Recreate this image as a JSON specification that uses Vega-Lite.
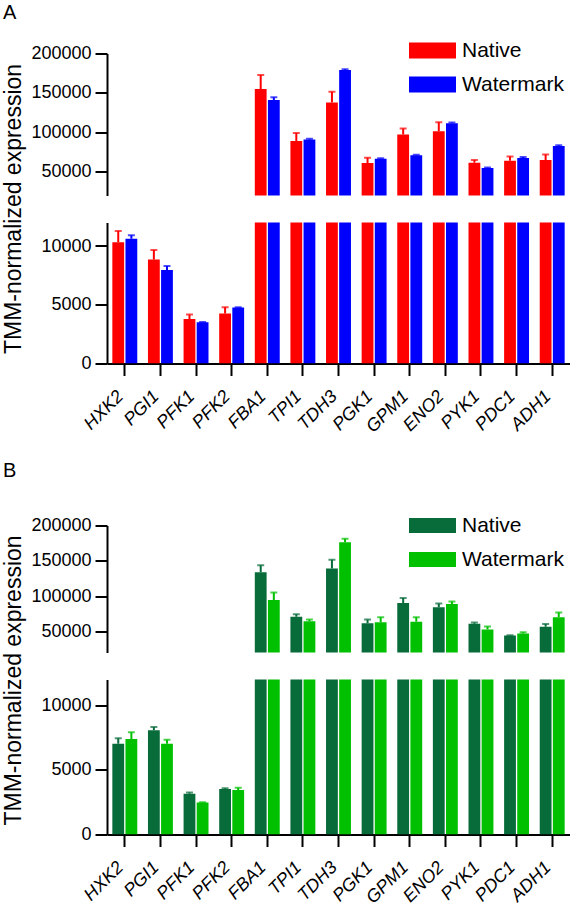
{
  "$schema": "https://vega.github.io/schema/vega-lite/v6.json",
  "padding": {"left": 2, "top": 2.5, "right": 0, "bottom": 0},
  "bounds": "flush",
  "spacing": 472,
  "config": {
    "font": "Liberation Sans",
    "view": {"stroke": null},
    "axis": {"grid": false, "domainColor": "#000000", "domainWidth": 2, "tickColor": "#000000", "tickWidth": 2, "tickSize": 12, "labelColor": "#000000", "labelFontSize": 18, "labelPadding": 4, "titleColor": "#000000", "titleFontWeight": "normal"},
    "title": {"fontWeight": "normal", "color": "#000000"},
    "legend": {"labelColor": "#000000", "symbolOpacity": 1}
  },
  "resolve": {"scale": {"color": "independent"}, "legend": {"color": "independent"}},
  "datasets": {
    "d": [
      {"panel": "A", "gene": "HXK2", "cond": "Native", "value": 10316, "hi": 11282},
      {"panel": "A", "gene": "HXK2", "cond": "Watermark", "value": 10624, "hi": 10912},
      {"panel": "A", "gene": "PGI1", "cond": "Native", "value": 8860, "hi": 9658},
      {"panel": "A", "gene": "PGI1", "cond": "Watermark", "value": 7949, "hi": 8290},
      {"panel": "A", "gene": "PFK1", "cond": "Native", "value": 3789, "hi": 4160},
      {"panel": "A", "gene": "PFK1", "cond": "Watermark", "value": 3504, "hi": 3530},
      {"panel": "A", "gene": "PFK2", "cond": "Native", "value": 4245, "hi": 4786},
      {"panel": "A", "gene": "PFK2", "cond": "Watermark", "value": 4758, "hi": 4790},
      {"panel": "A", "gene": "FBA1", "cond": "Native", "value": 155000, "hi": 172900},
      {"panel": "A", "gene": "FBA1", "cond": "Watermark", "value": 141000, "hi": 144500},
      {"panel": "A", "gene": "TPI1", "cond": "Native", "value": 89200, "hi": 99200},
      {"panel": "A", "gene": "TPI1", "cond": "Watermark", "value": 91000, "hi": 92000},
      {"panel": "A", "gene": "TDH3", "cond": "Native", "value": 138000, "hi": 151500},
      {"panel": "A", "gene": "TDH3", "cond": "Watermark", "value": 179000, "hi": 180000},
      {"panel": "A", "gene": "PGK1", "cond": "Native", "value": 61300, "hi": 67800},
      {"panel": "A", "gene": "PGK1", "cond": "Watermark", "value": 66600, "hi": 67300},
      {"panel": "A", "gene": "GPM1", "cond": "Native", "value": 97300, "hi": 105000},
      {"panel": "A", "gene": "GPM1", "cond": "Watermark", "value": 71000, "hi": 71600},
      {"panel": "A", "gene": "ENO2", "cond": "Native", "value": 101500, "hi": 112800},
      {"panel": "A", "gene": "ENO2", "cond": "Watermark", "value": 111500, "hi": 112500},
      {"panel": "A", "gene": "PYK1", "cond": "Native", "value": 61600, "hi": 65100},
      {"panel": "A", "gene": "PYK1", "cond": "Watermark", "value": 55000, "hi": 55600},
      {"panel": "A", "gene": "PDC1", "cond": "Native", "value": 64000, "hi": 69400},
      {"panel": "A", "gene": "PDC1", "cond": "Watermark", "value": 67500, "hi": 68800},
      {"panel": "A", "gene": "ADH1", "cond": "Native", "value": 65100, "hi": 72100},
      {"panel": "A", "gene": "ADH1", "cond": "Watermark", "value": 82900, "hi": 83600},
      {"panel": "B", "gene": "HXK2", "cond": "Native", "value": 7031, "hi": 7442},
      {"panel": "B", "gene": "HXK2", "cond": "Watermark", "value": 7388, "hi": 7907},
      {"panel": "B", "gene": "PGI1", "cond": "Native", "value": 8062, "hi": 8320},
      {"panel": "B", "gene": "PGI1", "cond": "Watermark", "value": 7031, "hi": 7339},
      {"panel": "B", "gene": "PFK1", "cond": "Native", "value": 3155, "hi": 3256},
      {"panel": "B", "gene": "PFK1", "cond": "Watermark", "value": 2481, "hi": 2490},
      {"panel": "B", "gene": "PFK2", "cond": "Native", "value": 3514, "hi": 3580},
      {"panel": "B", "gene": "PFK2", "cond": "Watermark", "value": 3437, "hi": 3618},
      {"panel": "B", "gene": "FBA1", "cond": "Native", "value": 133800, "hi": 143800},
      {"panel": "B", "gene": "FBA1", "cond": "Watermark", "value": 94500, "hi": 104900},
      {"panel": "B", "gene": "TPI1", "cond": "Native", "value": 70700, "hi": 74200},
      {"panel": "B", "gene": "TPI1", "cond": "Watermark", "value": 64300, "hi": 66900},
      {"panel": "B", "gene": "TDH3", "cond": "Native", "value": 139000, "hi": 151500},
      {"panel": "B", "gene": "TDH3", "cond": "Watermark", "value": 176200, "hi": 181300},
      {"panel": "B", "gene": "PGK1", "cond": "Native", "value": 61300, "hi": 66900},
      {"panel": "B", "gene": "PGK1", "cond": "Watermark", "value": 63000, "hi": 70000},
      {"panel": "B", "gene": "GPM1", "cond": "Native", "value": 90200, "hi": 97100},
      {"panel": "B", "gene": "GPM1", "cond": "Watermark", "value": 63500, "hi": 70000},
      {"panel": "B", "gene": "ENO2", "cond": "Native", "value": 84200, "hi": 89400},
      {"panel": "B", "gene": "ENO2", "cond": "Watermark", "value": 88900, "hi": 92400},
      {"panel": "B", "gene": "PYK1", "cond": "Native", "value": 60900, "hi": 62600},
      {"panel": "B", "gene": "PYK1", "cond": "Watermark", "value": 52600, "hi": 57000},
      {"panel": "B", "gene": "PDC1", "cond": "Native", "value": 44000, "hi": 44500},
      {"panel": "B", "gene": "PDC1", "cond": "Watermark", "value": 47000, "hi": 48700},
      {"panel": "B", "gene": "ADH1", "cond": "Native", "value": 56500, "hi": 60400},
      {"panel": "B", "gene": "ADH1", "cond": "Watermark", "value": 70000, "hi": 76800}
    ]
  },
  "vconcat": [
    {
      "bounds": "flush",
      "spacing": 27,
      "resolve": {"scale": {"color": "independent"}, "legend": {"color": "independent"}},
      "vconcat": [
        {
          "width": 463, "height": 142,
          "title": {"text": "A", "anchor": "start", "frame": "group", "dx": -104, "fontSize": 20, "offset": 4},
          "data": {"name": "d"},
          "transform": [{"filter": "datum.panel == 'A'"}],
          "encoding": {
            "x": {"field": "gene", "type": "nominal", "sort": null, "scale": {"paddingInner": 0.3, "paddingOuter": 0.15}, "axis": null},
            "xOffset": {"field": "cond", "type": "nominal", "scale": {"paddingInner": 0.1, "paddingOuter": 0}},
            "color": {"field": "cond", "type": "nominal", "scale": {"domain": ["Native", "Watermark"], "range": ["#ff0000", "#0000ff"]},
              "legend": {"orient": "none", "legendX": 302, "legendY": -26.5, "title": null, "symbolType": "M-1,-0.34H1V0.34H-1Z", "symbolSize": 2209, "symbolStrokeWidth": 0, "labelFontSize": 21, "labelOffset": 6, "rowPadding": -0.5}}
          },
          "layer": [
            {"mark": {"type": "bar", "clip": true}, "encoding": {"y": {"field": "value", "type": "quantitative", "scale": {"domain": [35000, 200000]}, "axis": {"values": [50000, 100000, 150000, 200000], "format": "d", "title": null}}}},
            {"mark": {"type": "rule", "clip": true, "strokeWidth": 2}, "encoding": {"y": {"field": "value", "type": "quantitative"}, "y2": {"field": "hi"}}},
            {"mark": {"type": "tick", "clip": true, "thickness": 2, "size": 7}, "encoding": {"y": {"field": "hi", "type": "quantitative"}}}
          ]
        },
        {
          "width": 463, "height": 141,
          "data": {"name": "d"},
          "transform": [{"filter": "datum.panel == 'A'"}],
          "encoding": {
            "x": {"field": "gene", "type": "nominal", "sort": null, "scale": {"paddingInner": 0.3, "paddingOuter": 0.15},
              "axis": {"title": null, "labelAngle": -45, "labelAlign": "right", "labelBaseline": "middle", "labelFontStyle": "italic", "labelFontSize": 18, "labelPadding": 18, "labelOffset": -4}},
            "xOffset": {"field": "cond", "type": "nominal", "scale": {"paddingInner": 0.1, "paddingOuter": 0}},
            "color": {"field": "cond", "type": "nominal", "scale": {"domain": ["Native", "Watermark"], "range": ["#ff0000", "#0000ff"]}, "legend": null}
          },
          "layer": [
            {"mark": {"type": "bar", "clip": true}, "encoding": {"y": {"field": "value", "type": "quantitative", "scale": {"domain": [0, 12000]},
              "axis": {"values": [0, 5000, 10000], "format": "d", "title": "TMM-normalized expression", "titleFontSize": 23, "titleAngle": 270, "titleAlign": "center", "titleBaseline": "alphabetic", "titleX": -86.6, "titleY": -14}}}},
            {"mark": {"type": "rule", "clip": true, "strokeWidth": 2}, "encoding": {"y": {"field": "value", "type": "quantitative"}, "y2": {"field": "hi"}}},
            {"mark": {"type": "tick", "clip": true, "thickness": 2, "size": 7}, "encoding": {"y": {"field": "hi", "type": "quantitative"}}}
          ]
        }
      ]
    },
    {
      "bounds": "flush",
      "spacing": 27,
      "resolve": {"scale": {"color": "independent"}, "legend": {"color": "independent"}},
      "vconcat": [
        {
          "width": 463, "height": 127,
          "title": {"text": "B", "anchor": "start", "frame": "group", "dx": -104, "fontSize": 20, "offset": 21},
          "data": {"name": "d"},
          "transform": [{"filter": "datum.panel == 'B'"}],
          "encoding": {
            "x": {"field": "gene", "type": "nominal", "sort": null, "scale": {"paddingInner": 0.3, "paddingOuter": 0.15}, "axis": null},
            "xOffset": {"field": "cond", "type": "nominal", "scale": {"paddingInner": 0.1, "paddingOuter": 0}},
            "color": {"field": "cond", "type": "nominal", "scale": {"domain": ["Native", "Watermark"], "range": ["#076b3a", "#00c000"]},
              "legend": {"orient": "none", "legendX": 302, "legendY": -23.5, "title": null, "symbolType": "M-1,-0.32H1V0.32H-1Z", "symbolSize": 2209, "symbolStrokeWidth": 0, "labelFontSize": 21, "labelOffset": 6, "rowPadding": -5}}
          },
          "layer": [
            {"mark": {"type": "bar", "clip": true}, "encoding": {"y": {"field": "value", "type": "quantitative", "scale": {"domain": [35000, 200000]}, "axis": {"values": [50000, 100000, 150000, 200000], "format": "d", "title": null}}}},
            {"mark": {"type": "rule", "clip": true, "strokeWidth": 2}, "encoding": {"y": {"field": "value", "type": "quantitative"}, "y2": {"field": "hi"}}},
            {"mark": {"type": "tick", "clip": true, "thickness": 2, "size": 7}, "encoding": {"y": {"field": "hi", "type": "quantitative"}}}
          ]
        },
        {
          "width": 463, "height": 155,
          "data": {"name": "d"},
          "transform": [{"filter": "datum.panel == 'B'"}],
          "encoding": {
            "x": {"field": "gene", "type": "nominal", "sort": null, "scale": {"paddingInner": 0.3, "paddingOuter": 0.15},
              "axis": {"title": null, "labelAngle": -45, "labelAlign": "right", "labelBaseline": "middle", "labelFontStyle": "italic", "labelFontSize": 18, "labelPadding": 18, "labelOffset": -4}},
            "xOffset": {"field": "cond", "type": "nominal", "scale": {"paddingInner": 0.1, "paddingOuter": 0}},
            "color": {"field": "cond", "type": "nominal", "scale": {"domain": ["Native", "Watermark"], "range": ["#076b3a", "#00c000"]}, "legend": null}
          },
          "layer": [
            {"mark": {"type": "bar", "clip": true}, "encoding": {"y": {"field": "value", "type": "quantitative", "scale": {"domain": [0, 12000]},
              "axis": {"values": [0, 5000, 10000], "format": "d", "title": "TMM-normalized expression", "titleFontSize": 23, "titleAngle": 270, "titleAlign": "center", "titleBaseline": "alphabetic", "titleX": -86.6, "titleY": 0.5}}}},
            {"mark": {"type": "rule", "clip": true, "strokeWidth": 2}, "encoding": {"y": {"field": "value", "type": "quantitative"}, "y2": {"field": "hi"}}},
            {"mark": {"type": "tick", "clip": true, "thickness": 2, "size": 7}, "encoding": {"y": {"field": "hi", "type": "quantitative"}}}
          ]
        }
      ]
    }
  ]
}
